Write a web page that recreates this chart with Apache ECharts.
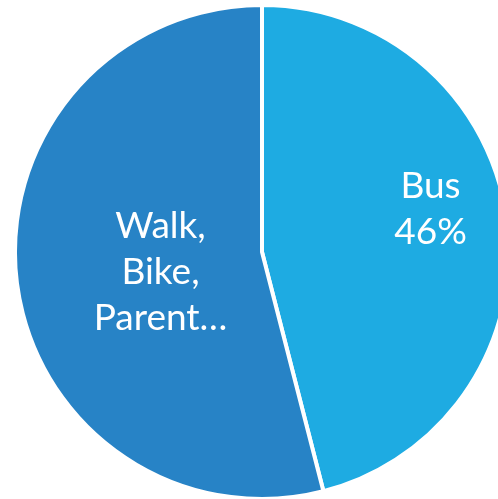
<!DOCTYPE html>
<html>
<head>
<meta charset="utf-8">
<script src="https://cdn.jsdelivr.net/npm/echarts@6/dist/echarts.min.js"></script>
<style>
  html, body { margin: 0; padding: 0; background: #fff; }
  #main { width: 498px; height: 499px; }
</style>
</head>
<body>
<div id="main"></div>
<script>
// 数据
const categories = ['Bus', 'Walk,\nBike,\nParent…'];
const values = [46, 54];
const colors = ['#1EABE2', '#2783C6'];
const labelOffsets = [[43, -27], [24, 4]];

const chart = echarts.init(document.getElementById('main'));

const option = {
  animation: false,
  series: [
    {
      type: 'pie',
      center: [262, 252],
      radius: [0, 247],
      startAngle: 90,
      clockwise: true,
      itemStyle: {
        borderColor: '#fff',
        borderWidth: 4
      },
      label: {
        position: 'inside',
        color: '#fff',
        fontFamily: 'Lato',
        fontSize: 37,
        lineHeight: 46
      },
      labelLine: { show: false },
      data: values.map((v, i) => ({
        name: categories[i],
        value: v,
        itemStyle: { color: colors[i] },
        label: {
          offset: labelOffsets[i],
          formatter: i === 0 ? '{b}\n{d}%' : '{b}'
        }
      }))
    }
  ]
};

chart.setOption(option);
</script>
</body>
</html>
